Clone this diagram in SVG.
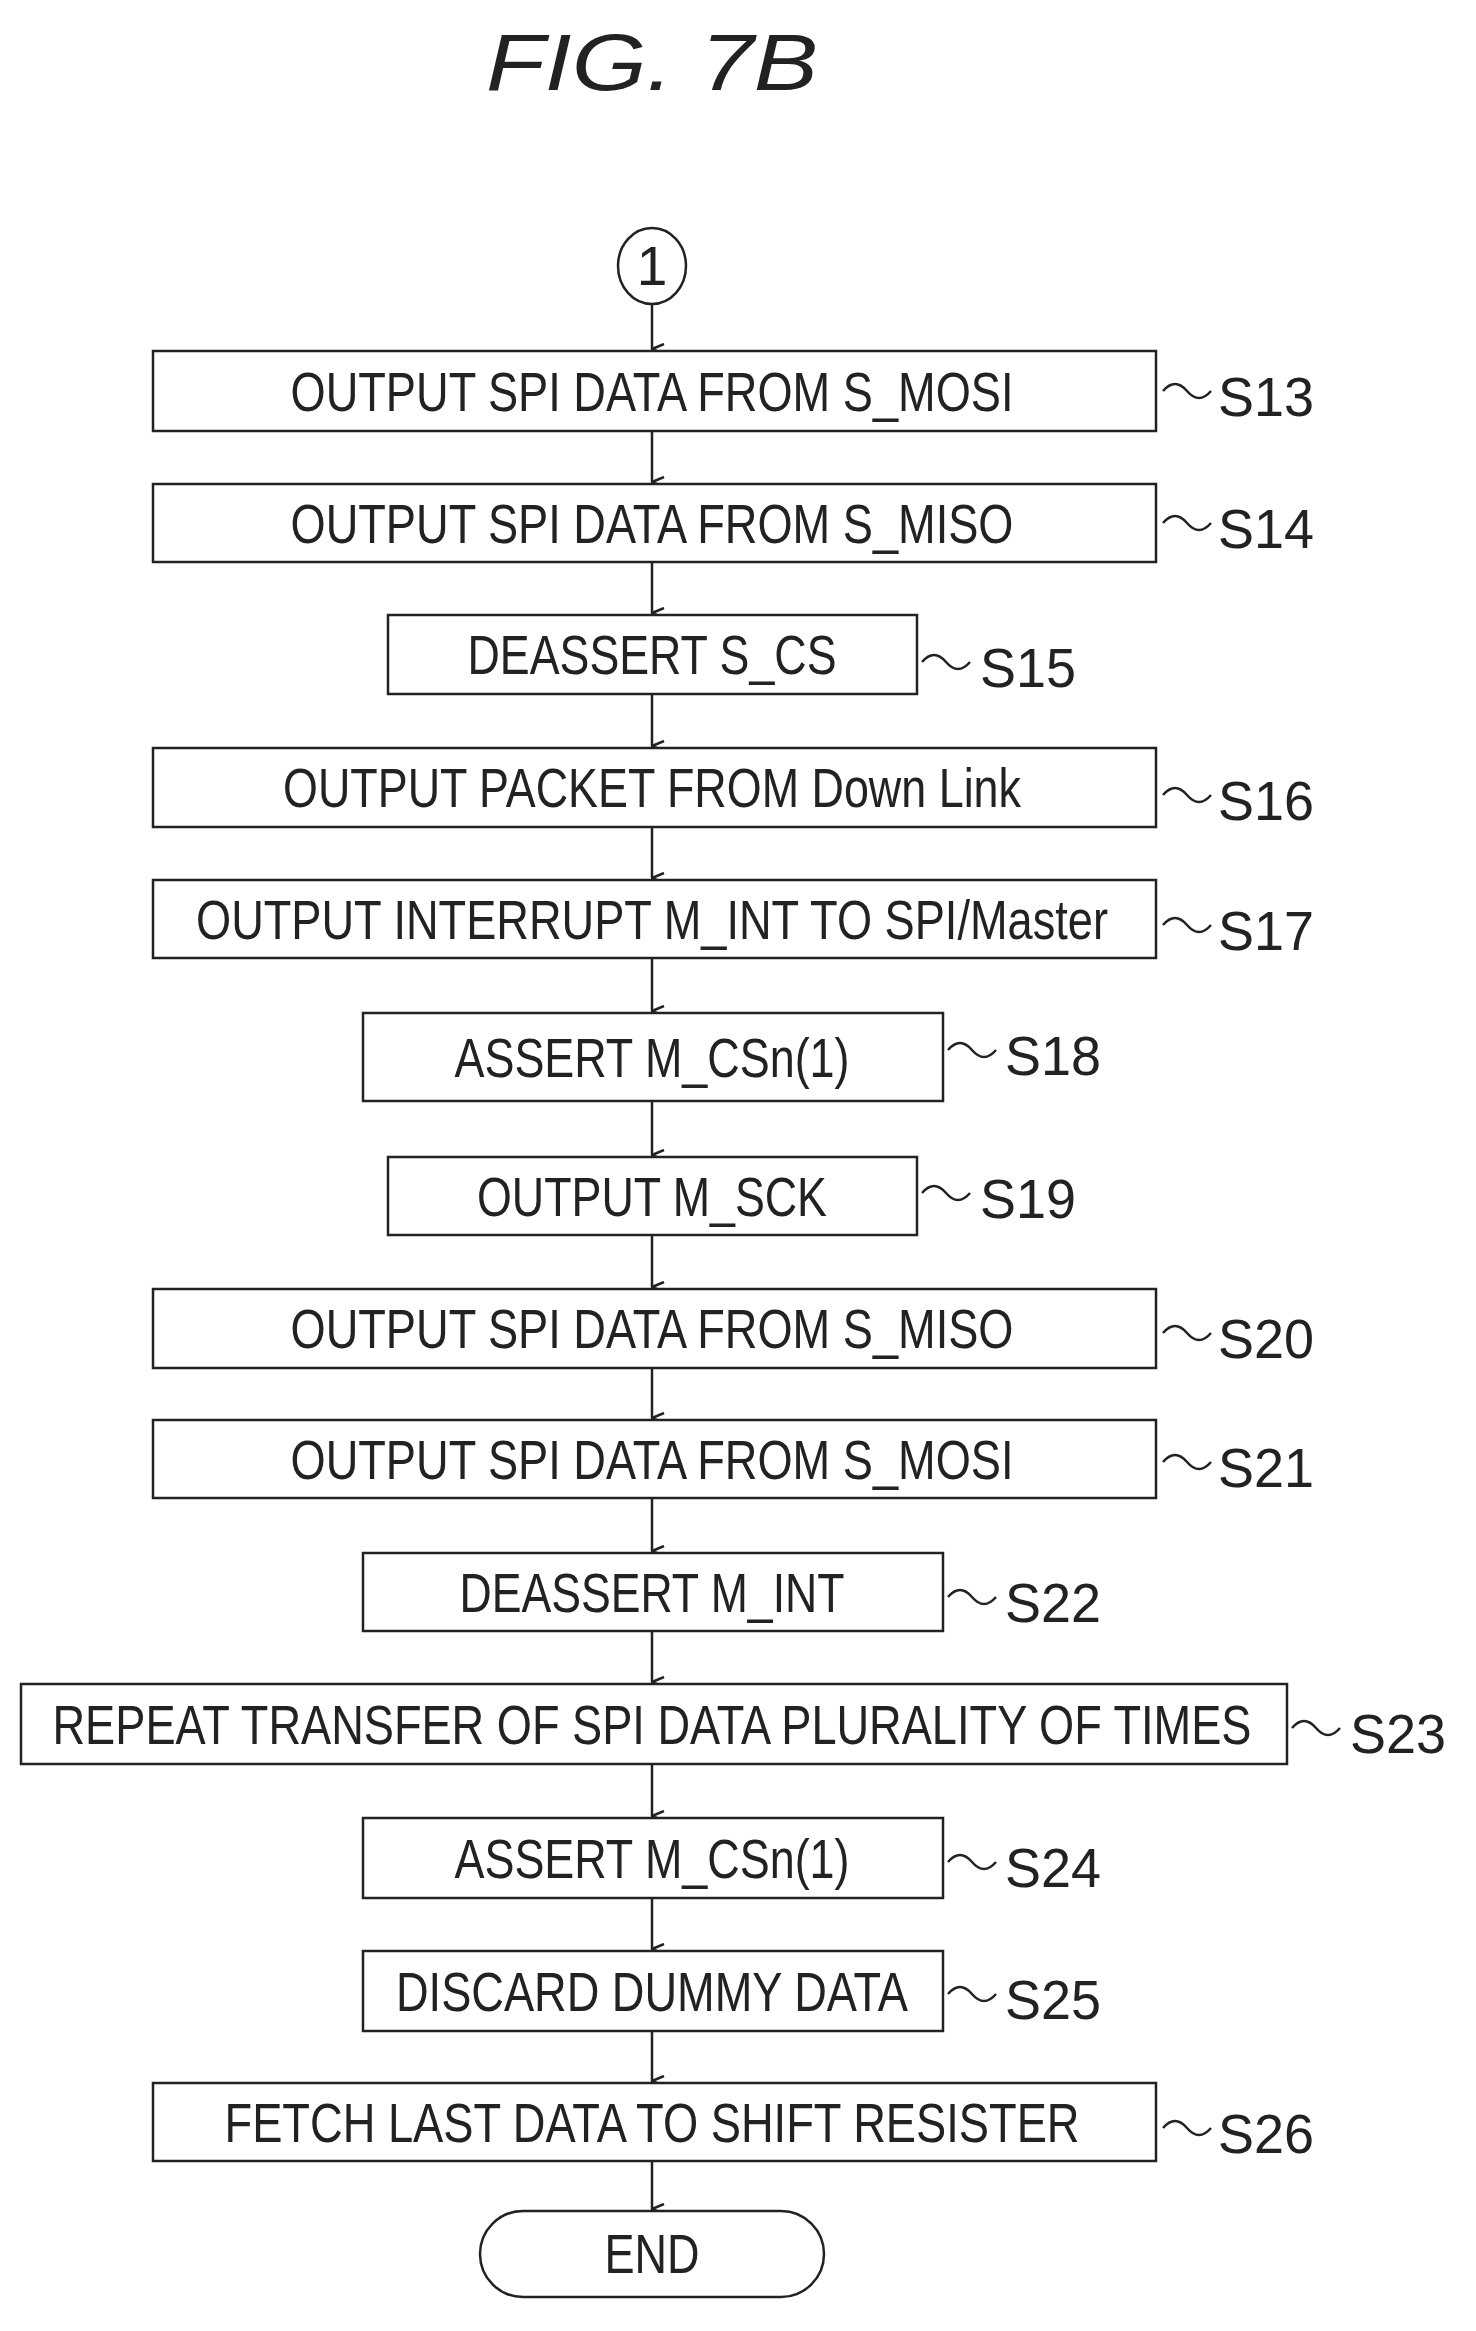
<svg xmlns="http://www.w3.org/2000/svg" width="1476" height="2331" viewBox="0 0 1476 2331">
<style>
.b{fill:#fff;stroke:#222;stroke-width:2.5}
.t{font-family:"Liberation Sans",Arial,sans-serif;font-size:55px;fill:#222;text-anchor:middle}
.l{font-family:"Liberation Sans",Arial,sans-serif;font-size:55px;fill:#222}
.w{fill:none;stroke:#222;stroke-width:2.5}
.c{stroke:#222;stroke-width:2.5;fill:none;marker-end:url(#a)}
</style>
<defs><marker id="a" markerWidth="12" markerHeight="14" refX="6" refY="13" orient="auto" markerUnits="userSpaceOnUse" viewBox="0 0 12 14"><path d="M1,1 L6,13 L11,1" fill="none" stroke="#222" stroke-width="2.5"/></marker></defs>
<text x="652" y="90" font-family="Liberation Sans,Arial,sans-serif" font-size="80" font-style="italic" text-anchor="middle" fill="#222" textLength="332" lengthAdjust="spacingAndGlyphs">FIG. 7B</text>
<g id="connectors">
<line class="c" x1="652" y1="304" x2="652" y2="349"/>
<line class="c" x1="652" y1="431" x2="652" y2="482"/>
<line class="c" x1="652" y1="562" x2="652" y2="613"/>
<line class="c" x1="652" y1="694" x2="652" y2="746"/>
<line class="c" x1="652" y1="827" x2="652" y2="878"/>
<line class="c" x1="652" y1="958" x2="652" y2="1011"/>
<line class="c" x1="652" y1="1101" x2="652" y2="1155"/>
<line class="c" x1="652" y1="1235" x2="652" y2="1287"/>
<line class="c" x1="652" y1="1368" x2="652" y2="1418"/>
<line class="c" x1="652" y1="1498" x2="652" y2="1551"/>
<line class="c" x1="652" y1="1631" x2="652" y2="1682"/>
<line class="c" x1="652" y1="1764" x2="652" y2="1816"/>
<line class="c" x1="652" y1="1898" x2="652" y2="1949"/>
<line class="c" x1="652" y1="2031" x2="652" y2="2081"/>
<line class="c" x1="652" y1="2161" x2="652" y2="2209"/>
</g>
<g id="c1"><ellipse class="b" cx="652" cy="266" rx="34" ry="38"/><text class="t" x="652" y="285">1</text></g>
<g id="S13"><rect class="b" x="153" y="351" width="1003" height="80"/><text class="t" x="652" y="411" textLength="723" lengthAdjust="spacingAndGlyphs">OUTPUT SPI DATA FROM S_MOSI</text><path class="w" d="M1163,391 q12,-14 24,0 t24,0"/><text class="l" x="1218" y="416" textLength="96" lengthAdjust="spacingAndGlyphs">S13</text></g>
<g id="S14"><rect class="b" x="153" y="484" width="1003" height="78"/><text class="t" x="652" y="543" textLength="723" lengthAdjust="spacingAndGlyphs">OUTPUT SPI DATA FROM S_MISO</text><path class="w" d="M1163,523 q12,-14 24,0 t24,0"/><text class="l" x="1218" y="548" textLength="96" lengthAdjust="spacingAndGlyphs">S14</text></g>
<g id="S15"><rect class="b" x="388" y="615" width="529" height="79"/><text class="t" x="652" y="674" textLength="369" lengthAdjust="spacingAndGlyphs">DEASSERT S_CS</text><path class="w" d="M922,662 q12,-14 24,0 t24,0"/><text class="l" x="980" y="687" textLength="96" lengthAdjust="spacingAndGlyphs">S15</text></g>
<g id="S16"><rect class="b" x="153" y="748" width="1003" height="79"/><text class="t" x="652" y="807" textLength="738" lengthAdjust="spacingAndGlyphs">OUTPUT PACKET FROM Down Link</text><path class="w" d="M1163,795 q12,-14 24,0 t24,0"/><text class="l" x="1218" y="820" textLength="96" lengthAdjust="spacingAndGlyphs">S16</text></g>
<g id="S17"><rect class="b" x="153" y="880" width="1003" height="78"/><text class="t" x="652" y="939" textLength="912" lengthAdjust="spacingAndGlyphs">OUTPUT INTERRUPT M_INT TO SPI/Master</text><path class="w" d="M1163,925 q12,-14 24,0 t24,0"/><text class="l" x="1218" y="950" textLength="96" lengthAdjust="spacingAndGlyphs">S17</text></g>
<g id="S18"><rect class="b" x="363" y="1013" width="580" height="88"/><text class="t" x="652" y="1077" textLength="395" lengthAdjust="spacingAndGlyphs">ASSERT M_CSn(1)</text><path class="w" d="M948,1050 q12,-14 24,0 t24,0"/><text class="l" x="1005" y="1075" textLength="96" lengthAdjust="spacingAndGlyphs">S18</text></g>
<g id="S19"><rect class="b" x="388" y="1157" width="529" height="78"/><text class="t" x="652" y="1216" textLength="350" lengthAdjust="spacingAndGlyphs">OUTPUT M_SCK</text><path class="w" d="M922,1193 q12,-14 24,0 t24,0"/><text class="l" x="980" y="1218" textLength="96" lengthAdjust="spacingAndGlyphs">S19</text></g>
<g id="S20"><rect class="b" x="153" y="1289" width="1003" height="79"/><text class="t" x="652" y="1348" textLength="723" lengthAdjust="spacingAndGlyphs">OUTPUT SPI DATA FROM S_MISO</text><path class="w" d="M1163,1333 q12,-14 24,0 t24,0"/><text class="l" x="1218" y="1358" textLength="96" lengthAdjust="spacingAndGlyphs">S20</text></g>
<g id="S21"><rect class="b" x="153" y="1420" width="1003" height="78"/><text class="t" x="652" y="1479" textLength="723" lengthAdjust="spacingAndGlyphs">OUTPUT SPI DATA FROM S_MOSI</text><path class="w" d="M1163,1462 q12,-14 24,0 t24,0"/><text class="l" x="1218" y="1487" textLength="96" lengthAdjust="spacingAndGlyphs">S21</text></g>
<g id="S22"><rect class="b" x="363" y="1553" width="580" height="78"/><text class="t" x="652" y="1612" textLength="385" lengthAdjust="spacingAndGlyphs">DEASSERT M_INT</text><path class="w" d="M948,1597 q12,-14 24,0 t24,0"/><text class="l" x="1005" y="1622" textLength="96" lengthAdjust="spacingAndGlyphs">S22</text></g>
<g id="S23"><rect class="b" x="21" y="1684" width="1266" height="80"/><text class="t" x="652" y="1744" textLength="1199" lengthAdjust="spacingAndGlyphs">REPEAT TRANSFER OF SPI DATA PLURALITY OF TIMES</text><path class="w" d="M1292,1728 q12,-14 24,0 t24,0"/><text class="l" x="1350" y="1753" textLength="96" lengthAdjust="spacingAndGlyphs">S23</text></g>
<g id="S24"><rect class="b" x="363" y="1818" width="580" height="80"/><text class="t" x="652" y="1878" textLength="395" lengthAdjust="spacingAndGlyphs">ASSERT M_CSn(1)</text><path class="w" d="M948,1862 q12,-14 24,0 t24,0"/><text class="l" x="1005" y="1887" textLength="96" lengthAdjust="spacingAndGlyphs">S24</text></g>
<g id="S25"><rect class="b" x="363" y="1951" width="580" height="80"/><text class="t" x="652" y="2011" textLength="512" lengthAdjust="spacingAndGlyphs">DISCARD DUMMY DATA</text><path class="w" d="M948,1994 q12,-14 24,0 t24,0"/><text class="l" x="1005" y="2019" textLength="96" lengthAdjust="spacingAndGlyphs">S25</text></g>
<g id="S26"><rect class="b" x="153" y="2083" width="1003" height="78"/><text class="t" x="652" y="2142" textLength="855" lengthAdjust="spacingAndGlyphs">FETCH LAST DATA TO SHIFT RESISTER</text><path class="w" d="M1163,2128 q12,-14 24,0 t24,0"/><text class="l" x="1218" y="2153" textLength="96" lengthAdjust="spacingAndGlyphs">S26</text></g>
<g id="END"><rect class="b" x="480" y="2211" width="344" height="86" rx="43"/><text class="t" x="652" y="2273" textLength="95" lengthAdjust="spacingAndGlyphs">END</text></g>
</svg>
